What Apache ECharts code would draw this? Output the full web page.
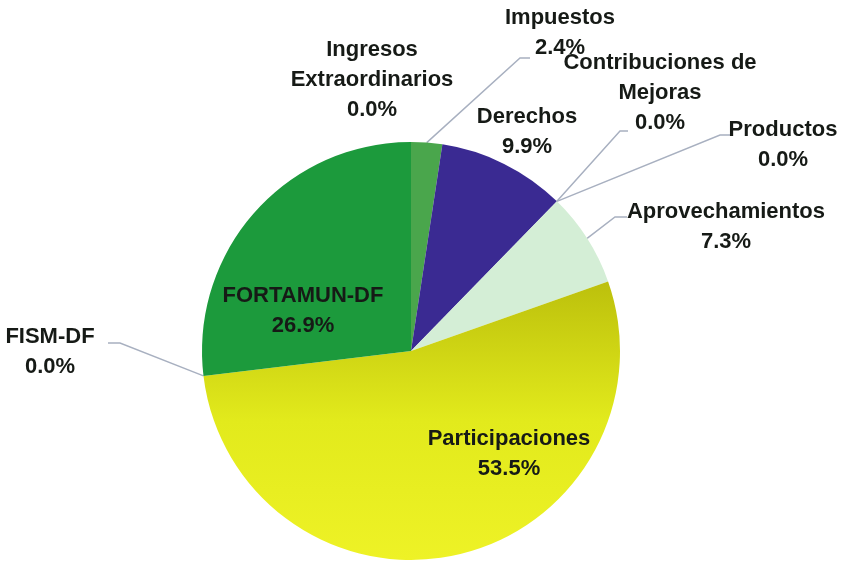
<!DOCTYPE html>
<html>
<head>
<meta charset="utf-8">
<script src="https://cdn.jsdelivr.net/npm/echarts@6/dist/echarts.min.js"></script>
<style>html,body{margin:0;padding:0;background:#fff}#c{width:847px;height:562px}</style>
</head>
<body>
<div id="c"></div>
<script>
const categories = ['Ingresos\nExtraordinarios', 'Impuestos', 'Derechos', 'Contribuciones de\nMejoras', 'Productos', 'Aprovechamientos', 'Participaciones', 'FISM-DF', 'FORTAMUN-DF'];
const values = [0.0, 2.4, 9.9, 0.0, 0.0, 7.3, 53.5, 0.0, 26.9];

// presentation (not data)
const colors = ['#1f9a3c', '#4aa64c', '#3a2a92', '#3a2a92', '#3a2a92', '#d4eed6',
  {type:'linear', x:0, y:0, x2:0, y2:1, colorStops:[{offset:0, color:'#bcc00c'},{offset:0.5,color:'#e2ea1c'},{offset:1, color:'#eef226'}]},
  '#1f9a3c', '#1c9a3c'];
const showLine = [false, true, false, true, true, true, false, true, false];
const labelPos = [[372,80],[560,33],[527,132],[660,93],[783,145],[726,227],[509,454],[50,352],[303,311]];
const lineBend = [null, [[520,58],[530,58]], null, [[620,131],[628,131]], [[720,135],[733,135]], [[615,217],[627,217]], null, [[120,343],[108,343]], null];

const chart = echarts.init(document.getElementById('c'), null, {renderer:'canvas'});
chart.setOption({
  animation: false,
  series: [{
    type: 'pie',
    center: [411, 351],
    radius: 209,
    startAngle: 90,
    clockwise: true,
    avoidLabelOverlap: false,
    data: categories.map((n, i) => ({
      name: n, value: values[i],
      itemStyle: {color: colors[i]},
      labelLine: {show: showLine[i]}
    })),
    label: {
      show: true,
      position: 'outside',
      formatter: p => p.name + '\n' + p.value.toFixed(1) + '%',
      fontFamily: '"Liberation Sans", Arial, sans-serif',
      fontWeight: 'bold',
      fontSize: 22,
      lineHeight: 30,
      color: '#161a16',
      align: 'center'
    },
    labelLine: {
      show: true,
      length: 20,
      length2: 10,
      lineStyle: {color: '#a8b0c0', width: 1.5}
    },
    labelLayout: function (params) {
      const i = params.dataIndex;
      const p = labelPos[i];
      const out = {x: p[0], y: p[1], align: 'center', verticalAlign: 'middle'};
      if (lineBend[i] && params.labelLinePoints && params.labelLinePoints[0]) {
        out.labelLinePoints = [params.labelLinePoints[0], lineBend[i][0], lineBend[i][1]];
      }
      return out;
    },
    itemStyle: {borderWidth: 0}
  }]
});
</script>
</body>
</html>
